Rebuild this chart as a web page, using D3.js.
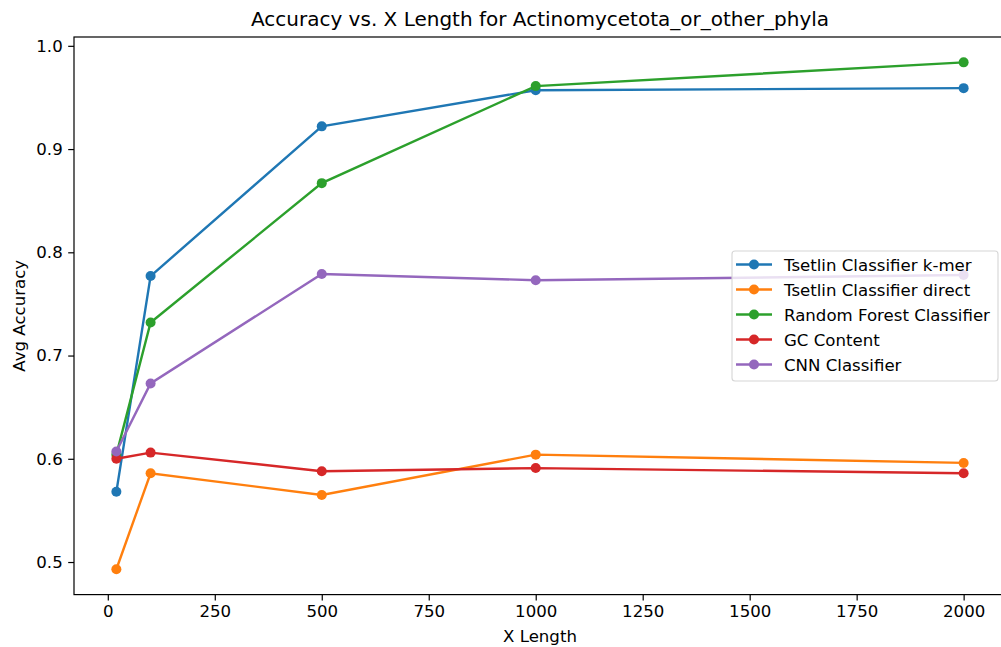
<!DOCTYPE html>
<html>
<head>
<meta charset="utf-8">
<script src="https://cdn.jsdelivr.net/npm/d3@7"></script>
<style>
  html, body { margin: 0; padding: 0; background: #fff; }
  text { font-family: "DejaVu Sans", sans-serif; fill: #000; }
</style>
</head>
<body>
<svg id="chart" width="1001" height="647"></svg>
<script>
// X lengths tested
const xLengths = [20, 100, 500, 1000, 2000];

// Average accuracy per method
const tsetlinKmer   = [0.568, 0.777, 0.922, 0.957, 0.959];
const tsetlinDirect = [0.493, 0.586, 0.565, 0.604, 0.596];
const randomForest  = [0.604, 0.732, 0.867, 0.961, 0.984];
const gcContent     = [0.600, 0.606, 0.588, 0.591, 0.586];
const cnnClassifier = [0.607, 0.673, 0.779, 0.773, 0.778];

const seriesNames  = ["Tsetlin Classifier k-mer", "Tsetlin Classifier direct",
                      "Random Forest Classifier", "GC Content", "CNN Classifier"];
const seriesColors = ["#1f77b4", "#ff7f0e", "#2ca02c", "#d62728", "#9467bd"];
const seriesValues = [tsetlinKmer, tsetlinDirect, randomForest, gcContent, cnnClassifier];

const xTicks = [0, 250, 500, 750, 1000, 1250, 1500, 1750, 2000];
const yTicks = [0.5, 0.6, 0.7, 0.8, 0.9, 1.0];

const svg = d3.select("#chart");
const plotLeft = 74, plotRight = 1006, plotTop = 37, plotBottom = 594.6;
const fontSize = "16.6px";

// matplotlib-style 5% margins around the data range
const xMin = d3.min(xLengths), xMax = d3.max(xLengths);
const xPad = (xMax - xMin) * 0.05;
const allY = seriesValues.flat();
const yMin = d3.min(allY), yMax = d3.max(allY);
const yPad = (yMax - yMin) * 0.05;

const x = d3.scaleLinear().domain([xMin - xPad, xMax + xPad]).range([plotLeft, plotRight]);
const y = d3.scaleLinear().domain([yMin - yPad, yMax + yPad]).range([plotBottom, plotTop]);

// Axes
const xAxis = svg.append("g").attr("transform", `translate(0,${plotBottom})`)
  .call(d3.axisBottom(x).tickValues(xTicks).tickFormat(d3.format("d")).tickSize(5.8).tickPadding(5));
const yAxis = svg.append("g").attr("transform", `translate(${plotLeft},0)`)
  .call(d3.axisLeft(y).tickValues(yTicks).tickFormat(d3.format(".1f")).tickSize(5.8).tickPadding(5.5));
[xAxis, yAxis].forEach(g => {
  g.select(".domain").remove();
  g.selectAll("line").attr("stroke", "#000").attr("stroke-width", 1.2);
  g.selectAll("text").style("font-size", fontSize).style("font-family", "DejaVu Sans, sans-serif").attr("fill", "#000");
});

// Spines
svg.append("rect").attr("x", plotLeft).attr("y", plotTop)
  .attr("width", plotRight - plotLeft).attr("height", plotBottom - plotTop)
  .attr("fill", "none").attr("stroke", "#000").attr("stroke-width", 1.2);

// Series
const line = d3.line().x((d, i) => x(xLengths[i])).y(d => y(d));
seriesValues.forEach((vals, k) => {
  const g = svg.append("g");
  g.append("path").datum(vals).attr("d", line)
    .attr("fill", "none").attr("stroke", seriesColors[k]).attr("stroke-width", 2.4);
  g.selectAll("circle").data(vals).join("circle")
    .attr("cx", (d, i) => x(xLengths[i])).attr("cy", d => y(d))
    .attr("r", 5).attr("fill", seriesColors[k]);
});

// Title and axis labels
svg.append("text").attr("x", (plotLeft + plotRight) / 2).attr("y", 26)
  .attr("text-anchor", "middle").style("font-size", "20px")
  .text("Accuracy vs. X Length for Actinomycetota_or_other_phyla");
svg.append("text").attr("x", (plotLeft + plotRight) / 2).attr("y", 642)
  .attr("text-anchor", "middle").style("font-size", fontSize).text("X Length");
svg.append("text").attr("transform", `translate(25,${(plotTop + plotBottom) / 2}) rotate(-90)`)
  .attr("text-anchor", "middle").style("font-size", fontSize).text("Avg Accuracy");

// Legend (center right)
const lg = svg.append("g");
const lx = 732, ly = 251, lw = 266, lh = 130;
lg.append("rect").attr("x", lx).attr("y", ly).attr("width", lw).attr("height", lh)
  .attr("rx", 3).attr("fill", "#fff").attr("fill-opacity", 0.8)
  .attr("stroke", "#d6d6d6").attr("stroke-width", 1.1);
seriesNames.forEach((name, k) => {
  const cy = ly + 13.5 + k * 25;
  lg.append("line").attr("x1", lx + 4).attr("x2", lx + 40).attr("y1", cy).attr("y2", cy)
    .attr("stroke", seriesColors[k]).attr("stroke-width", 2.4);
  lg.append("circle").attr("cx", lx + 22).attr("cy", cy).attr("r", 5).attr("fill", seriesColors[k]);
  lg.append("text").attr("x", lx + 52).attr("y", cy + 6).style("font-size", fontSize).text(name);
});
</script>
</body>
</html>
